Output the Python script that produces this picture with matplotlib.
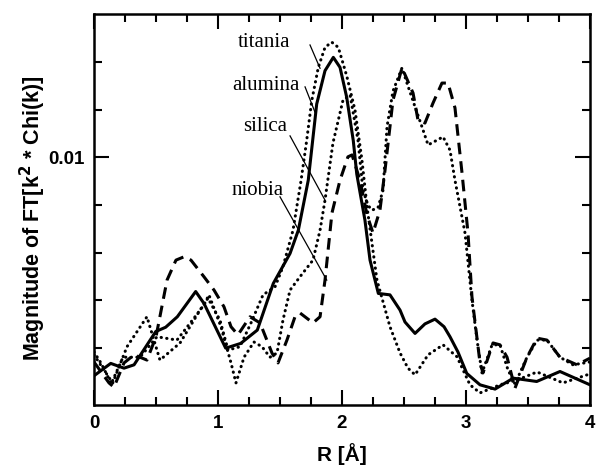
import matplotlib
matplotlib.use("Agg")
import matplotlib.pyplot as plt
from matplotlib.ticker import FixedLocator, NullFormatter, FixedFormatter

# ---- data (R in Angstrom, magnitude of FT in units of 1e-3) ----
alumina_r = [0, 0.135, 0.242, 0.323, 0.498, 0.578, 0.672, 0.820, 0.887, 1.062, 1.183,
             1.317, 1.446, 1.581, 1.648, 1.728, 1.796, 1.863, 1.930, 1.984, 2.038,
             2.091, 2.119, 2.185, 2.226, 2.293, 2.387, 2.468, 2.508, 2.589, 2.669,
             2.750, 2.823, 2.871, 2.935, 3.006, 3.113, 3.234, 3.381, 3.570, 3.758, 4.0]
alumina_v = [5.41, 5.67, 5.57, 5.64, 6.34, 6.43, 6.65, 7.18, 6.93, 5.99, 6.09,
             6.37, 7.35, 7.98, 8.47, 9.52, 11.12, 11.82, 12.10, 11.89, 11.26,
             10.35, 9.65, 8.68, 7.84, 7.14, 7.11, 6.79, 6.54, 6.30, 6.50,
             6.60, 6.44, 6.23, 5.91, 5.46, 5.22, 5.13, 5.36, 5.29, 5.50, 5.22]

titania_r = [0, 0.056, 0.145, 0.266, 0.427, 0.532, 0.694, 0.855, 0.919, 1.016, 1.081,
             1.177, 1.266, 1.363, 1.460, 1.524, 1.605, 1.669, 1.715, 1.756, 1.809,
             1.863, 1.917, 1.970, 2.010, 2.040, 2.105, 2.161, 2.202, 2.282, 2.387,
             2.468, 2.532, 2.589, 2.694, 2.815, 2.927, 3.032, 3.113, 3.274, 3.411,
             3.573, 3.782, 4.0]
titania_v = [5.91, 5.68, 5.22, 6.02, 6.65, 5.74, 6.10, 6.79, 7.04, 6.58, 5.95,
             6.02, 6.52, 7.11, 7.28, 7.70, 8.47, 9.50, 10.35, 11.19, 11.89,
             12.31, 12.42, 12.31, 11.96, 11.69, 10.99, 9.94, 8.96, 7.42, 6.44,
             5.89, 5.57, 5.43, 5.85, 6.06, 5.81, 5.22, 5.05, 5.22, 5.32,
             5.49, 5.26, 5.45]

silica_r = [0, 0.081, 0.145, 0.234, 0.371, 0.508, 0.669, 0.806, 0.887, 0.927, 1.024,
            1.105, 1.145, 1.210, 1.290, 1.355, 1.419, 1.476, 1.524, 1.581, 1.661,
            1.766, 1.823, 1.863, 1.927, 2.008, 2.065, 2.129, 2.169, 2.210, 2.242,
            2.290, 2.331, 2.363, 2.411, 2.484, 2.524, 2.589, 2.645, 2.694, 2.766,
            2.815, 2.871, 2.911, 2.952, 2.992, 3.048, 3.089, 3.129, 3.210, 3.274,
            3.339, 3.395, 3.492, 3.573, 3.653, 3.758, 3.863, 4.0]
silica_v = [5.85, 5.53, 5.28, 5.80, 5.80, 6.23, 6.16, 6.62, 6.90, 7.11, 6.44,
            5.68, 5.26, 5.80, 6.12, 6.02, 5.80, 5.89, 6.58, 7.21, 7.49,
            7.84, 8.47, 9.10, 10.30, 11.20, 11.31, 10.36, 9.31, 8.99, 8.89,
            8.94, 9.31, 10.64, 11.39, 11.88, 11.56, 11.06, 10.64, 10.26, 10.36,
            10.43, 10.15, 9.52, 8.96, 8.41, 7.00, 6.16, 5.47, 6.06, 6.06,
            5.53, 5.24, 5.80, 6.16, 6.16, 5.80, 5.64, 5.70]

niobia_r = [0, 0.121, 0.161, 0.242, 0.323, 0.427, 0.500, 0.589, 0.661, 0.726, 0.782,
            0.887, 0.968, 1.048, 1.105, 1.161, 1.258, 1.339, 1.435, 1.484, 1.556,
            1.621, 1.661, 1.766, 1.823, 1.863, 1.919, 1.984, 2.048, 2.081, 2.145,
            2.202, 2.250, 2.306, 2.347, 2.411, 2.484, 2.573, 2.613, 2.669, 2.734,
            2.806, 2.855, 2.911, 2.968, 3.016, 3.048, 3.113, 3.137, 3.218, 3.274,
            3.331, 3.395, 3.492, 3.573, 3.653, 3.758, 3.895, 4.0]
niobia_v = [5.70, 5.26, 5.17, 5.68, 5.85, 5.74, 6.23, 7.42, 7.84, 7.91, 7.84,
            7.49, 7.21, 6.86, 6.44, 6.27, 6.65, 6.52, 5.89, 5.68, 6.16,
            6.65, 6.73, 6.52, 6.65, 7.42, 8.83, 9.52, 10.01, 10.05, 9.52,
            8.79, 8.41, 8.89, 9.73, 11.20, 11.88, 11.35, 10.78, 10.72, 11.14,
            11.56, 11.56, 11.04, 9.67, 8.41, 7.07, 5.68, 5.47, 6.10, 6.06,
            5.80, 5.15, 5.80, 6.20, 6.16, 5.80, 5.64, 5.78]
SCALE = 1e-3  # values above are in units of 1e-3

# labels with leader lines: (text position, line start, line end)
label_names = ["titania", "alumina", "silica", "niobia"]
label_text_xy = [(1.371, 12.42), (1.387, 11.50), (1.379, 10.64), (1.323, 9.31)]
leader_start = [(1.742, 12.36), (1.702, 11.48), (1.581, 10.45), (1.500, 9.17)]
leader_end = [(1.823, 11.87), (1.782, 10.95), (1.863, 9.10), (1.877, 7.42)]

x_major = [0, 1, 2, 3, 4]
y_major = [0.01]
y_major_labels = ["0.01"]

fig = plt.figure(figsize=(5.96, 4.70), dpi=100)
ax = fig.add_axes([94 / 596, 65 / 470, 496 / 596, 391 / 470])

dotted = (0, (0.1, 1.75))
ax.plot(alumina_r, [v * SCALE for v in alumina_v], color="black", lw=2.2,
        solid_joinstyle="round")
ax.plot(titania_r, [v * SCALE for v in titania_v], color="black", lw=2.2,
        linestyle=dotted, dash_capstyle="round")
ax.plot(silica_r, [v * SCALE for v in silica_v], color="black", lw=2.2,
        linestyle=dotted, dash_capstyle="round")
ax.plot(niobia_r, [v * SCALE for v in niobia_v], color="black", lw=2.2,
        linestyle=(0, (3.8, 2.3)))

for name, txy, s, e in zip(label_names, label_text_xy, leader_start, leader_end):
    ax.text(txy[0], txy[1] * SCALE, name, ha="center", va="center",
            fontsize=15, family=["Liberation Serif", "DejaVu Serif"])
    ax.plot([s[0], e[0]], [s[1] * SCALE, e[1] * SCALE], color="black", lw=0.9)

ax.set_xlim(0, 4)
ax.set_ylim(0.004796, 0.013011)

ax.xaxis.set_major_locator(FixedLocator(x_major))
ax.xaxis.set_minor_locator(FixedLocator([i * 0.25 for i in range(17) if i % 4 != 0]))
ax.yaxis.set_major_locator(FixedLocator(y_major))
ax.yaxis.set_major_formatter(FixedFormatter(y_major_labels))
ax.yaxis.set_minor_locator(FixedLocator([0.006, 0.007, 0.008, 0.009, 0.011, 0.012]))
ax.yaxis.set_minor_formatter(NullFormatter())

ax.tick_params(which="both", direction="in", top=True, right=True, width=1.5, color="black")
ax.tick_params(which="major", length=11, pad=7)
ax.tick_params(which="minor", length=6)
for sp in ax.spines.values():
    sp.set_linewidth(1.8)

for lab in ax.get_xticklabels() + ax.get_yticklabels():
    lab.set_fontfamily(["Liberation Sans", "DejaVu Sans"])
    lab.set_fontweight("bold")
    lab.set_fontsize(13.5)

ax.set_xlabel("R [Å]", fontsize=15, fontweight="bold",
              family=["Liberation Sans", "DejaVu Sans"], labelpad=8)
ax.set_ylabel("Magnitude of FT[k$^\\mathbf{2}$ * Chi(k)]", fontsize=15.5, fontweight="bold",
              family=["Liberation Sans", "DejaVu Sans"])
ax.yaxis.set_label_coords(-0.092, 0.478)

fig.savefig("out.png", dpi=100)
